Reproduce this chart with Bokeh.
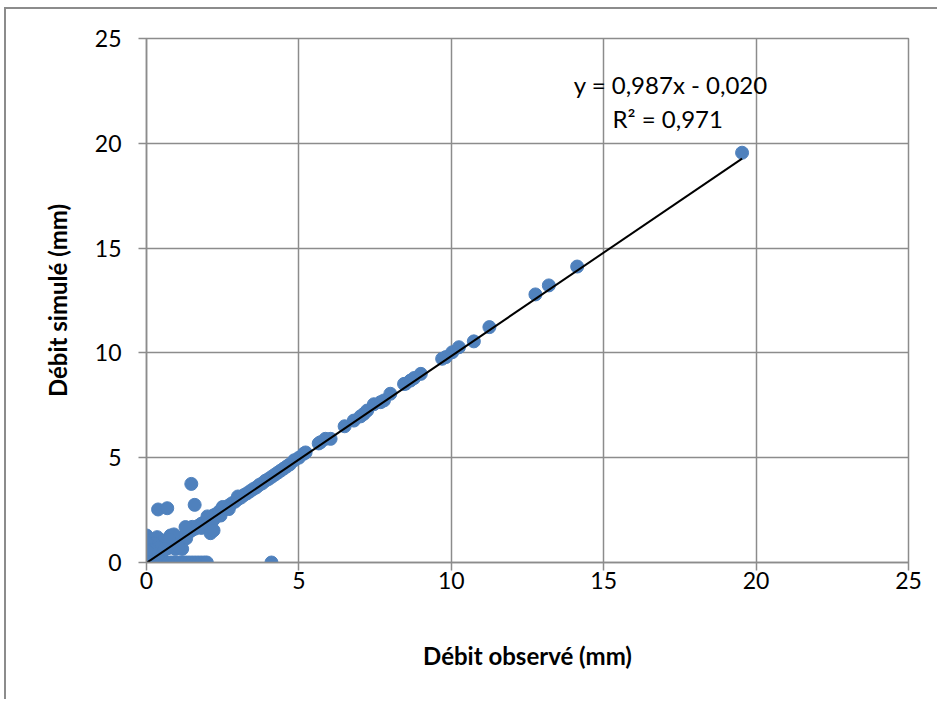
from bokeh.plotting import figure
from bokeh.models import Range1d, FixedTicker, ColumnDataSource
from bokeh.core.properties import value
from bokeh.embed import file_html
from bokeh.resources import INLINE

# Observed (x) and simulated (y) discharge, mm
obs_line = [0.1, 0.2, 0.3, 0.4, 0.5, 0.6, 0.7, 0.8, 0.9, 1.0, 1.1, 1.2, 1.3, 1.4, 1.5,
            1.6, 1.7, 1.8, 1.9, 2.0, 2.1, 2.2, 2.3, 2.4, 2.5, 2.6, 2.7, 2.8, 2.9, 3.0,
            3.1, 3.2, 3.3, 3.4, 3.5, 3.6, 3.7, 3.8, 3.9, 4.0, 4.1, 4.2, 4.3, 4.4, 4.5,
            4.6, 4.7, 4.85, 5.0, 5.16, 5.22, 5.65, 5.71, 5.87, 6.04, 6.5, 6.8, 7.02,
            7.13, 7.24, 7.46, 7.68, 7.79, 8.0, 8.45, 8.5, 8.66, 8.78, 9.0, 9.7, 9.82,
            10.03, 10.25, 10.74, 11.25, 12.76, 13.2, 14.13, 19.54]
sim_line = [0.12, 0.22, 0.28, 0.42, 0.5, 0.62, 0.68, 0.82, 0.88, 1.02, 1.15, 1.22, 1.35, 1.45, 1.55,
            1.62, 1.75, 1.85, 1.92, 2.05, 2.15, 2.25, 2.32, 2.45, 2.52, 2.6, 2.72, 2.82, 2.9, 3.02,
            3.1, 3.22, 3.3, 3.4, 3.5, 3.58, 3.7, 3.78, 3.9, 3.98, 4.08, 4.18, 4.28, 4.38, 4.48,
            4.58, 4.68, 4.88, 5.0, 5.19, 5.25, 5.68, 5.74, 5.9, 5.9, 6.5, 6.77, 6.97,
            7.09, 7.25, 7.55, 7.65, 7.73, 8.05, 8.52, 8.53, 8.68, 8.8, 9.0, 9.72, 9.8,
            10.03, 10.27, 10.55, 11.23, 12.79, 13.22, 14.12, 19.55]

obs_extra = [1.5, 2.0, 2.5, 3.0, 1.8, 2.2, 2.7, 1.3, 2.1, 2.2, 2.43, 1.28,
             0.0, 0.02, 0.05, 0.1, 0.15, 0.03, 0.35, 0.56, 0.79, 0.9, 0.75, 0.25,
             0.4, 0.6, 0.95, 1.17, 1.05, 0.0, 0.13, 0.0,
             1.47, 1.58, 0.38, 0.68]
sim_extra = [1.7, 2.2, 2.65, 3.15, 1.65, 2.05, 2.55, 1.15, 1.4, 1.53, 2.24, 1.69,
             1.29, 1.05, 0.8, 0.6, 0.4, 0.3, 1.21, 1.05, 1.29, 1.34, 1.1, 0.9,
             0.7, 0.65, 0.65, 0.65, 0.75, 0.95, 0.57, 0.55,
             3.75, 2.75, 2.53, 2.59]

obs_zero = [0.0, 0.05, 0.1, 0.15, 0.2, 0.3, 0.4, 0.5, 0.6, 0.7, 0.8, 0.9, 1.0, 1.1,
            1.2, 1.3, 1.4, 1.5, 1.6, 1.7, 1.8, 1.9, 1.98, 4.1]
sim_zero = [0.0] * len(obs_zero)

slope = 0.987
intercept = -0.020
equation = "y = 0,987x - 0,020"
r2_text = "R² = 0,971"
ticks = [0, 5, 10, 15, 20, 25]
x_title = "Débit observé (mm)"
y_title = "Débit simulé (mm)"

obs = obs_line + obs_extra + obs_zero
sim = sim_line + sim_extra + sim_zero

FONT = "Lato"
GRID = "#8c8c8c"
BLUE = "#4F81BD"

p = figure(width=933, height=692, output_backend="svg", toolbar_location=None,
           x_range=Range1d(0, 25), y_range=Range1d(0, 25),
           min_border_left=140, min_border_right=31, min_border_top=29, min_border_bottom=139)
p.margin = (9, 0, 0, 6)
p.styles = {"box-shadow": "-2px -2px 0 0 #8c8c8c"}
p.outline_line_color = GRID
p.outline_line_width = 1.5

for ax in (p.xaxis[0], p.yaxis[0]):
    ax.ticker = FixedTicker(ticks=ticks)
    ax.axis_line_color = GRID
    ax.axis_line_width = 1.5
    ax.major_tick_line_color = GRID
    ax.major_tick_line_width = 1.5
    ax.major_tick_in = 0
    ax.major_tick_out = 8
    ax.minor_tick_line_color = None
    ax.major_label_text_font = FONT
    ax.major_label_text_font_size = "23px"
    ax.major_label_text_color = "#000000"
    ax.axis_label_text_font = FONT
    ax.axis_label_text_font_size = "24px"
    ax.axis_label_text_font_style = "bold"
    ax.axis_label_text_color = "#000000"

p.xaxis.axis_label = x_title
p.yaxis.axis_label = y_title
p.xaxis.major_label_standoff = 1
p.yaxis.major_label_standoff = 17
p.xaxis.axis_label_standoff = 49
p.yaxis.axis_label_standoff = 20

for g in (p.xgrid[0], p.ygrid[0]):
    g.ticker = FixedTicker(ticks=ticks)
    g.grid_line_color = GRID
    g.grid_line_width = 1.5

src = ColumnDataSource(dict(x=obs, y=sim))
p.scatter("x", "y", source=src, size=13, fill_color=BLUE, line_color=BLUE)

x_fit = [min(obs), max(obs)]
y_fit = [slope * v + intercept for v in x_fit]
p.line(x_fit, y_fit, line_color="black", line_width=2)

p.text(x=[17.2], y=[22.8], text=[equation], text_align="center", text_baseline="middle",
       text_font=value(FONT), text_font_size="24px", text_color="black")
p.text(x=[17.1], y=[21.2], text=[r2_text], text_align="center", text_baseline="middle",
       text_font=value(FONT), text_font_size="24px", text_color="black")

open("out.html", "w").write(file_html(p, INLINE))
